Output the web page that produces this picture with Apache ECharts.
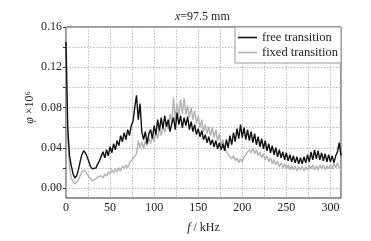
<!DOCTYPE html>
<html>
<head>
<meta charset="utf-8">
<script src="https://cdn.jsdelivr.net/npm/echarts@6/dist/echarts.min.js"></script>
<style>html,body{margin:0;padding:0;background:#fff}#c{width:371px;height:241px}</style>
</head>
<body>
<div id="c"></div>
<script>
const seriesNames = ['free transition', 'fixed transition'];
const freq = [
  0,2,4,6,8,10,12,14,16,18,
  20,22,24,26,28,30,32,34,36,38,
  40,42,44,46,48,50,52,54,56,58,
  60,62,64,66,68,70,72,74,76,78,
  80,82,84,86,88,90,92,94,96,98,
  100,102,104,106,108,110,112,114,116,118,
  120,122,124,126,128,130,132,134,136,138,
  140,142,144,146,148,150,152,154,156,158,
  160,162,164,166,168,170,172,174,176,178,
  180,182,184,186,188,190,192,194,196,198,
  200,202,204,206,208,210,212,214,216,218,
  220,222,224,226,228,230,232,234,236,238,
  240,242,244,246,248,250,252,254,256,258,
  260,262,264,266,268,270,272,274,276,278,
  280,282,284,286,288,290,292,294,296,298,
  300,302,304,306,308,310,312
];
const freeTransition = [
  0.145,0.060,0.032,0.022,0.014,0.010,0.012,0.018,0.026,0.033,
  0.037,0.035,0.031,0.026,0.021,0.019,0.018,0.020,0.024,0.027,
  0.028,0.036,0.030,0.038,0.032,0.041,0.035,0.044,0.038,0.047,
  0.042,0.052,0.046,0.055,0.048,0.058,0.052,0.062,0.066,0.080,
  0.092,0.068,0.084,0.056,0.048,0.056,0.044,0.054,0.058,0.049,
  0.062,0.053,0.068,0.057,0.070,0.059,0.072,0.061,0.068,0.056,
  0.064,0.070,0.058,0.075,0.063,0.072,0.060,0.070,0.062,0.071,
  0.058,0.066,0.056,0.063,0.053,0.059,0.051,0.057,0.048,0.053,
  0.045,0.051,0.043,0.048,0.041,0.047,0.039,0.045,0.038,0.044,
  0.037,0.048,0.040,0.052,0.043,0.055,0.046,0.059,0.049,0.063,
  0.050,0.060,0.048,0.058,0.047,0.056,0.045,0.054,0.043,0.051,
  0.041,0.049,0.039,0.047,0.037,0.044,0.035,0.042,0.033,0.040,
  0.031,0.038,0.030,0.036,0.028,0.035,0.027,0.033,0.026,0.032,
  0.025,0.031,0.024,0.030,0.024,0.031,0.025,0.033,0.026,0.036,
  0.028,0.038,0.029,0.037,0.028,0.035,0.027,0.034,0.026,0.033,
  0.026,0.032,0.025,0.032,0.036,0.045,0.032
];
const fixedTransition = [
  0.120,0.050,0.020,0.010,0.006,0.004,0.005,0.008,0.012,0.016,
  0.018,0.017,0.014,0.011,0.009,0.007,0.008,0.009,0.011,0.010,
  0.012,0.010,0.014,0.012,0.016,0.014,0.018,0.015,0.019,0.016,
  0.020,0.017,0.022,0.019,0.023,0.020,0.025,0.026,0.029,0.032,
  0.034,0.047,0.040,0.046,0.039,0.047,0.042,0.050,0.044,0.052,
  0.046,0.056,0.049,0.059,0.052,0.062,0.055,0.066,0.058,0.074,
  0.064,0.090,0.068,0.084,0.072,0.088,0.074,0.089,0.073,0.082,
  0.070,0.080,0.068,0.077,0.064,0.072,0.060,0.068,0.056,0.063,
  0.054,0.061,0.052,0.060,0.050,0.058,0.047,0.054,0.043,0.048,
  0.040,0.039,0.033,0.034,0.029,0.032,0.027,0.030,0.025,0.029,
  0.026,0.031,0.033,0.036,0.038,0.035,0.040,0.034,0.038,0.032,
  0.036,0.030,0.034,0.028,0.032,0.026,0.030,0.024,0.028,0.023,
  0.027,0.021,0.025,0.020,0.024,0.019,0.023,0.018,0.022,0.018,
  0.022,0.017,0.021,0.018,0.022,0.017,0.021,0.018,0.022,0.019,
  0.023,0.018,0.022,0.018,0.023,0.019,0.023,0.018,0.022,0.019,
  0.023,0.019,0.024,0.020,0.025,0.020,0.018
];

const serif = 'Liberation Serif';
const pairs = (ys) => freq.map((f, i) => [f, ys[i]]);
const chart = echarts.init(document.getElementById('c'), null, {renderer: 'canvas'});
chart.setOption({
  animation: false,
  backgroundColor: '#fff',
  title: {
    text: '{i|x}=97.5 mm',
    left: 175, top: 11, padding: 0,
    textStyle: {
      fontFamily: serif, fontSize: 12, fontWeight: 'normal', color: '#222',
      rich: {i: {fontFamily: serif, fontSize: 12, fontStyle: 'italic', color: '#222'}}
    }
  },
  legend: {
    data: [
      {name: seriesNames[0], icon: 'rect'},
      {name: seriesNames[1], icon: 'rect'}
    ],
    orient: 'vertical',
    right: 30, top: 27,
    padding: [4, 3, 4, 3],
    itemGap: 2,
    itemWidth: 19, itemHeight: 1.6,
    backgroundColor: '#fff',
    borderColor: '#999', borderWidth: 1, borderRadius: 0,
    textStyle: {fontFamily: serif, fontSize: 12.5, color: '#222', lineHeight: 13}
  },
  grid: [
    {left: 66, right: 30, top: 27, bottom: 53, show: false},
    {left: 66, right: 30, top: 27, bottom: 43, show: true, borderColor: '#333', borderWidth: 1, backgroundColor: 'transparent'}
  ],
  xAxis: [
    {
      gridIndex: 0, type: 'value', min: 0, max: 312, interval: 25,
      axisLine: {show: false}, axisTick: {show: false}, axisLabel: {show: false},
      splitLine: {show: false}
    },
    {
      gridIndex: 1, type: 'value', min: 0, max: 312, interval: 25,
      name: '{i|f} / kHz', nameLocation: 'middle', nameGap: 24, nameMoveOverlap: false,
      nameTextStyle: {
        fontFamily: serif, fontSize: 12, color: '#222',
        rich: {i: {fontFamily: serif, fontSize: 12, fontStyle: 'italic', color: '#222'}}
      },
      axisLine: {show: false}, axisTick: {show: false},
      axisLabel: {
        margin: 4, fontFamily: serif, fontSize: 12, color: '#222',
        formatter: (v) => (v % 50 === 0 ? String(v) : ''),
        showMaxLabel: false
      },
      splitLine: {show: true, lineStyle: {color: '#b8b8b8', type: [1.5, 1.5], width: 1}}
    }
  ],
  yAxis: [
    {
      gridIndex: 0, type: 'value', min: 0, max: 0.16, interval: 0.02,
      name: '{i|φ} ×10⁶', nameLocation: 'middle', nameGap: 30, nameRotate: 90, nameMoveOverlap: false,
      nameTextStyle: {
        fontFamily: serif, fontSize: 12, color: '#222',
        rich: {i: {fontFamily: serif, fontSize: 12, fontStyle: 'italic', color: '#222'}}
      },
      axisLine: {show: false},
      axisTick: {show: true, length: 3, lineStyle: {color: '#333'}},
      axisLabel: {
        margin: 4, fontFamily: serif, fontSize: 12, color: '#222',
        formatter: (v) => (Math.round(v * 100) % 4 === 0 ? v.toFixed(2) : '')
      },
      splitLine: {show: true, lineStyle: {color: '#b8b8b8', type: [1.5, 1.5], width: 1}}
    },
    {gridIndex: 1, type: 'value', min: 0, max: 1, show: false, splitLine: {show: false}}
  ],
  series: [
    {
      name: seriesNames[1], type: 'line', xAxisIndex: 0, yAxisIndex: 0,
      data: pairs(fixedTransition), symbol: 'none', z: 2,
      lineStyle: {color: '#b3b3b3', width: 1.4}, itemStyle: {color: '#b3b3b3'}
    },
    {
      name: seriesNames[0], type: 'line', xAxisIndex: 0, yAxisIndex: 0,
      data: pairs(freeTransition), symbol: 'none', z: 3,
      lineStyle: {color: '#111', width: 1.4}, itemStyle: {color: '#111'}
    }
  ]
});
</script>
</body>
</html>
